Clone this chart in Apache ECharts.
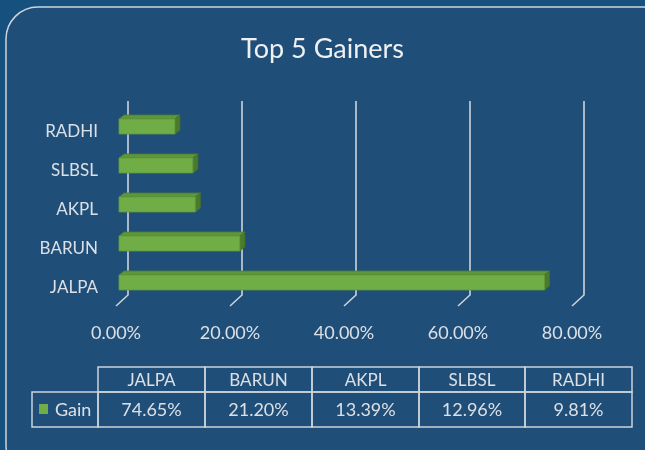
<!DOCTYPE html>
<html>
<head>
<meta charset="utf-8">
<script src="https://cdn.jsdelivr.net/npm/echarts@6/dist/echarts.min.js"></script>
<style>
  html, body { margin: 0; padding: 0; background: #15507f; }
  #chart { width: 645px; height: 450px; }
</style>
</head>
<body>
<div id="chart"></div>
<script>
// data
var categories = ['JALPA', 'BARUN', 'AKPL', 'SLBSL', 'RADHI'];
var gains = [74.65, 21.20, 13.39, 12.96, 9.81];   // percent
var tickValues = [0, 20, 40, 60, 80];
var seriesName = 'Gain';

var textColor = '#dce0e5';
var lineColor = '#ccd3da';
var barColor = '#70ad47';
var font = 'Lato';

function pct(v) { return v.toFixed(2) + '%'; }

//3D bars
function renderBar(params, api) {
    var idx = api.value(0);
    var end = api.coord([api.value(1), idx]);
    var x0 = params.coordSys.x;
    var x1 = end[0];
    var h = 15, dx = 5, dy = 4;
    var y0 = end[1] - 5 - h / 2;
    return {
        type: 'group',
        children: [
            {
                type: 'polygon',
                shape: { points: [[x0, y0], [x0 + dx, y0 - dy], [x1 + dx, y0 - dy], [x1, y0]] },
                style: { fill: '#5e963a', stroke: '#4f7f30', lineWidth: 0.8 }
            },
            {
                type: 'polygon',
                shape: { points: [[x1, y0], [x1 + dx, y0 - dy], [x1 + dx, y0 + h - dy], [x1, y0 + h]] },
                style: { fill: '#4b7a2c', stroke: '#46722a', lineWidth: 0.8 }
            },
            {
                type: 'rect',
                shape: { x: x0, y: y0, width: x1 - x0, height: h },
                style: { fill: barColor, stroke: '#5f9a3b', lineWidth: 0.8 }
            }
        ]
    };
}

//gridlines of the back wall + floor
function renderGrid(params, api) {
    var p = api.coord([api.value(0), 0]);
    var cs = params.coordSys;
    var bottom = cs.y + cs.height;
    return {
        type: 'polyline',
        shape: { points: [[p[0] + 9, cs.y - 11], [p[0] + 9, bottom - 12], [p[0] - 3, bottom - 1]] },
        style: { stroke: lineColor, lineWidth: 1.6, fill: null }
    };
}

//data table
function buildTable() {
    var cols = [98, 205, 312, 419, 525, 632];
    var rowTop = 367, rowMid = 392, rowBot = 427;
    var els = [];
    var cellStyle = { fill: null, stroke: lineColor, lineWidth: 1.5 };
    els.push({ type: 'rect', shape: { x: 32, y: rowMid, width: cols[0] - 32, height: rowBot - rowMid }, style: cellStyle });
    for (var i = 0; i < categories.length; i++) {
        var cx = (cols[i] + cols[i + 1]) / 2;
        var w = cols[i + 1] - cols[i];
        els.push({ type: 'rect', shape: { x: cols[i], y: rowTop, width: w, height: rowMid - rowTop }, style: cellStyle });
        els.push({ type: 'rect', shape: { x: cols[i], y: rowMid, width: w, height: rowBot - rowMid }, style: cellStyle });
        els.push({ type: 'text', x: cx, y: (rowTop + rowMid) / 2 + 1,
            style: { text: categories[i], fill: textColor, font: '17px ' + font, textAlign: 'center', textVerticalAlign: 'middle' } });
        els.push({ type: 'text', x: cx, y: (rowMid + rowBot) / 2 + 1,
            style: { text: pct(gains[i]), fill: textColor, font: '18px ' + font, textAlign: 'center', textVerticalAlign: 'middle' } });
    }
    els.push({ type: 'rect', shape: { x: 39, y: 404, width: 9, height: 10 }, style: { fill: barColor } });
    els.push({ type: 'text', x: 55, y: (rowMid + rowBot) / 2 + 1,
        style: { text: seriesName, fill: textColor, font: '18px ' + font, textAlign: 'left', textVerticalAlign: 'middle' } });
    return els;
}

function generateChart() {
    var myChart = echarts.init(document.getElementById('chart'));
    var option = {
        backgroundColor: '#15507f',
        title: {
            text: 'Top 5 Gainers',
            left: 'center',
            top: 31,
            textStyle: { color: '#eef0f2', fontFamily: font, fontSize: 27, fontWeight: 'normal' }
        },
        graphic: [
            {
                type: 'rect',
                z: -10,
                shape: { x: 6, y: 7, width: 670, height: 470, r: 32 },
                style: { fill: '#1f4e79', stroke: '#cdd5dc', lineWidth: 1.5 }
            }
        ].concat(buildTable()),
        grid: { left: 119, right: 70, top: 112, bottom: 143 },
        xAxis: {
            type: 'value',
            min: 0,
            max: 80,
            interval: 20,
            axisLine: { show: false },
            axisTick: { show: false },
            splitLine: { show: false },
            axisLabel: {
                color: textColor, fontFamily: font, fontSize: 18, margin: 17,
                padding: [0, 6, 0, 0],
                formatter: function (v) { return pct(v); }
            }
        },
        yAxis: {
            type: 'category',
            data: categories,
            axisLine: { show: false },
            axisTick: { show: false },
            axisLabel: { color: textColor, fontFamily: font, fontSize: 17, margin: 21, padding: [4, 0, 0, 0] }
        },
        series: [
            {
                type: 'custom',
                name: 'grid',
                renderItem: renderGrid,
                data: tickValues.map(function (v) { return [v]; }),
                encode: { x: 0 },
                silent: true,
                z: 1
            },
            {
                type: 'custom',
                name: seriesName,
                renderItem: renderBar,
                data: gains.map(function (v, i) { return [i, v]; }),
                encode: { x: 1, y: 0 },
                z: 2
            }
        ]
    };
    myChart.setOption(option);
}

generateChart();
</script>
</body>
</html>
